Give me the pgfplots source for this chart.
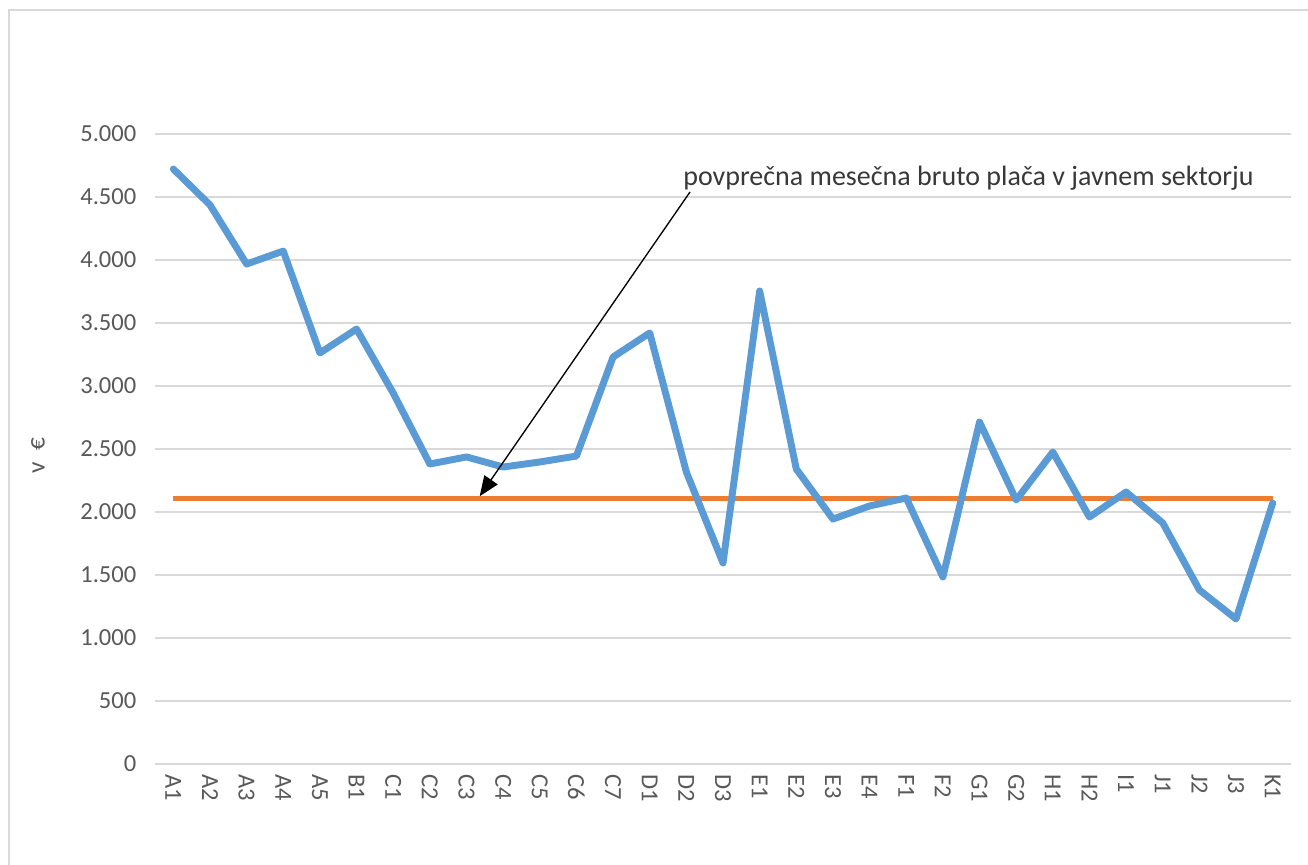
\documentclass[border=0pt]{standalone}
\usepackage{pgfplots}
\pgfplotsset{compat=1.18}
\usetikzlibrary{arrows.meta}
\usepackage{fontspec}
\setmainfont{Carlito}
\definecolor{blueline}{HTML}{5B9BD5}
\definecolor{orangeline}{HTML}{ED7D31}
\definecolor{gridc}{HTML}{D9D9D9}
\definecolor{labc}{HTML}{595959}
\definecolor{framec}{HTML}{D9D9D9}
\begin{document}
\begin{tikzpicture}
\path[use as bounding box] (0,0) rectangle (981pt,648pt);
\draw[framec, line width=1.5pt] (6.75pt,-2pt) -- (6.75pt,640.5pt) -- (990pt,640.5pt);
\begin{axis}[
  at={(116.25pt,75pt)}, anchor=south west,
  scale only axis, width=852pt, height=472.5pt,
  xmin=-0.5, xmax=30.5, ymin=0, ymax=5000,
  xtick={0,...,30},
  xticklabels={A1,A2,A3,A4,A5,B1,C1,C2,C3,C4,C5,C6,C7,D1,D2,D3,E1,E2,E3,E4,F1,F2,G1,G2,H1,H2,I1,J1,J2,J3,K1},
  ytick={0,500,...,5000},
  ymajorgrids, grid style={gridc, line width=1.2pt},
  axis line style={draw=none},
  major tick length=0pt,
  tick label style={font=\fontsize{18.4}{22}\selectfont, text=labc},
  xticklabel style={rotate=-90, anchor=west, xshift=4pt},
  yticklabel style={anchor=east, xshift=-10.5pt},
  /pgf/number format/.cd, 1000 sep={.}, assume math mode=true,
  /pgfplots/.cd,
  ylabel={v\hspace{0.45em}€},
  ylabel style={at={(axis description cs:-0.103,0.49)}, anchor=center, font=\fontsize{19}{22}\selectfont, text=labc},
  clip=false,
]
\addplot[orangeline, line width=3.8pt] coordinates {(0,2110) (30,2110)};
\addplot[blueline, line width=5.2pt, line join=round, line cap=round] coordinates {
(0,4722) (1,4437) (2,3968) (3,4071) (4,3262) (5,3452) (6,2944) (7,2381) (8,2437) (9,2357)
(10,2397) (11,2444) (12,3230) (13,3421) (14,2317) (15,1595) (16,3754) (17,2341) (18,1944) (19,2048)
(20,2111) (21,1484) (22,2714) (23,2095) (24,2476) (25,1960) (26,2159) (27,1913) (28,1381) (29,1151) (30,2071)};
\draw[-{Triangle[length=15pt,width=12pt]}, line width=1pt, black] (axis cs:14.10,4540) -- (axis cs:8.36,2125);
\node[anchor=west, inner sep=0pt, text=black!78, font=\fontsize{21}{25}\selectfont] at (axis cs:13.91,4651) {povprečna mesečna bruto plača v javnem sektorju};
\end{axis}
\end{tikzpicture}
\end{document}
